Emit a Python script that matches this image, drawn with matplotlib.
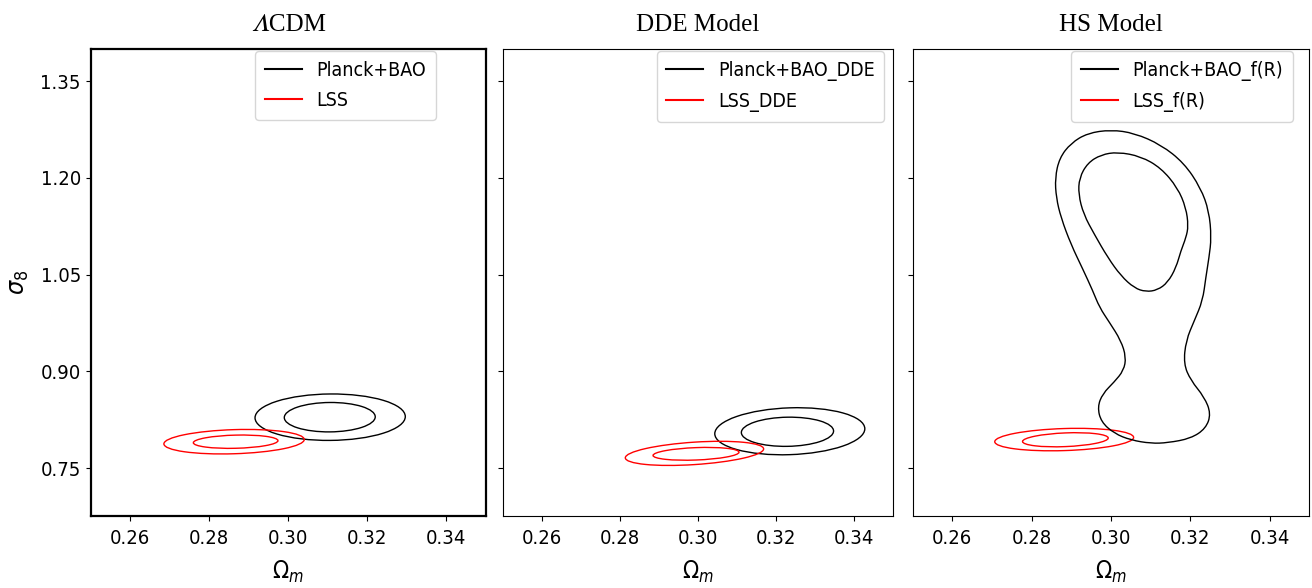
import numpy as np
import matplotlib
matplotlib.use("Agg")
import matplotlib.pyplot as plt
from matplotlib.patches import Ellipse, PathPatch
from matplotlib.path import Path
from matplotlib.lines import Line2D
from matplotlib.transforms import Affine2D
from matplotlib import font_manager

# panel titles and legend labels
titles = ['\U0001D6ECCDM', 'DDE Model', 'HS Model']
planck_labels = ['Planck+BAO', 'Planck+BAO_DDE', 'Planck+BAO_f(R)']
lss_labels = ['LSS', 'LSS_DDE', 'LSS_f(R)']

xticks = [0.26, 0.28, 0.30, 0.32, 0.34]
yticks = [0.75, 0.90, 1.05, 1.20, 1.35]

# elliptical 68%/95% contours
# (centre, half width in Omega_m, half height in sigma_8, tilt dsigma8/dOmega_m)
ell_panel = [0, 0, 0, 0, 1, 1, 1, 1, 2, 2]
ell_color = ['k', 'k', 'r', 'r', 'k', 'k', 'r', 'r', 'r', 'r']
ell_cx = [0.3105, 0.3106, 0.2867, 0.2863, 0.3229, 0.3235, 0.2995, 0.2991, 0.2885, 0.2882]
ell_cy = [0.829, 0.829, 0.791, 0.791, 0.8064, 0.8072, 0.7722, 0.7729, 0.794, 0.7943]
ell_a = [0.0115, 0.0190, 0.0107, 0.01775, 0.0118, 0.0192, 0.0110, 0.0177, 0.0108, 0.0175]
ell_b = [0.0228, 0.0360, 0.0102, 0.0187, 0.0226, 0.0363, 0.0096, 0.0174, 0.0106, 0.0171]
ell_tilt = [0.05, 0.05, 0.15, 0.19, 0.10, 0.20, 0.23, 0.39, 0.25, 0.19]

# HS model Planck+BAO contours (non-gaussian), traced outline
hs_outer_x = [0.3000, 0.3059, 0.3126, 0.3184, 0.3226, 0.3247, 0.3253, 0.3247, 0.3239, 0.3231,
              0.3210, 0.3189, 0.3183, 0.3201, 0.3235, 0.3252, 0.3239, 0.3201, 0.3143, 0.3101,
              0.3050, 0.3008, 0.2975, 0.2966, 0.2979, 0.3008, 0.3032, 0.3038, 0.3025, 0.2996,
              0.2971, 0.2954, 0.2929, 0.2899, 0.2874, 0.2862, 0.2859, 0.2870, 0.2899, 0.2941]
hs_outer_y = [1.2747, 1.2695, 1.2515, 1.2232, 1.1846, 1.1486, 1.1074, 1.0765, 1.0457, 1.0096,
              0.9787, 0.9479, 0.9118, 0.8861, 0.8604, 0.8346, 0.8115, 0.7960, 0.7893, 0.7883,
              0.7935, 0.8038, 0.8218, 0.8449, 0.8655, 0.8835, 0.9015, 0.9221, 0.9479, 0.9761,
              0.9993, 1.0251, 1.0585, 1.0971, 1.1383, 1.1692, 1.2000, 1.2309, 1.2540, 1.2695]
hs_inner_x = [0.3017, 0.3075, 0.3126, 0.3168, 0.3189, 0.3195, 0.3189, 0.3176, 0.3164, 0.3143,
              0.3117, 0.3088, 0.3059, 0.3025, 0.2992, 0.2958, 0.2931, 0.2918, 0.2920, 0.2941,
              0.2975]
hs_inner_y = [1.2402, 1.2335, 1.2155, 1.1846, 1.1537, 1.1254, 1.1074, 1.0868, 1.0610, 1.0379,
              1.0261, 1.0235, 1.0292, 1.0482, 1.0765, 1.1126, 1.1435, 1.1744, 1.2000, 1.2232,
              1.2361]

condensed = any(f.name == 'DejaVu Sans' and f.stretch == 'condensed'
                for f in font_manager.fontManager.ttflist)
plt.rcParams['font.family'] = ['DejaVu Sans']
if condensed:
    plt.rcParams['font.stretch'] = 'condensed'
    tick_fs, leg_fs = 14.5, 14
else:
    tick_fs, leg_fs = 13.5, 12.5


def closed_curve(xs, ys):
    # quadratic b-spline through the traced control points
    p = np.column_stack([xs, ys])
    nxt = np.roll(p, -1, axis=0)
    mid = (p + nxt) / 2
    verts = [mid[-1]]
    codes = [Path.MOVETO]
    for i in range(len(p)):
        verts += [p[i], mid[i]]
        codes += [Path.CURVE3, Path.CURVE3]
    return Path(verts, codes)


fig = plt.figure(figsize=(13.12, 5.88), dpi=100)
lefts = [0.0690, 0.3831, 0.6956]
widths = [0.3014, 0.2978, 0.3024]
legend_right = [0.873, 0.977, 0.958]
axes = []
for i in range(3):
    ax = fig.add_axes([lefts[i], 0.1216, widths[i], 0.7951])
    axes.append(ax)
    ax.set_xlim(0.25, 0.35)
    ax.set_ylim(0.675, 1.40)
    ax.set_xticks(xticks)
    ax.set_xticklabels(['%.2f' % v for v in xticks])
    ax.set_yticks(yticks)
    if i == 0:
        ax.set_yticklabels(['%.2f' % v for v in yticks])
        ax.set_ylabel(r'$\sigma_8$', fontsize=18, labelpad=7)
        for s in ax.spines.values():
            s.set_linewidth(1.6)
    else:
        ax.set_yticklabels([])
    ax.tick_params(labelsize=tick_fs)
    ax.tick_params(axis='x', pad=5.5)
    ax.set_xlabel(r'$\Omega_m$', fontsize=17, labelpad=8)
    ax.set_title(titles[i], fontsize=18, family=['Liberation Serif', 'STIXGeneral'],
                 pad=13)

for j in range(len(ell_cx)):
    ax = axes[ell_panel[j]]
    a, b, k = ell_a[j], ell_b[j], ell_tilt[j]
    tr = Affine2D(np.array([[a, 0, ell_cx[j]], [k * a, b, ell_cy[j]], [0, 0, 1]]))
    e = Ellipse((0, 0), 2, 2, fill=False, edgecolor=ell_color[j], lw=1.0,
                transform=tr + ax.transData)
    ax.add_patch(e)

for xs, ys in [(hs_outer_x, hs_outer_y), (hs_inner_x, hs_inner_y)]:
    axes[2].add_patch(PathPatch(closed_curve(xs, ys), fill=False, edgecolor='k', lw=1.0))

for i, ax in enumerate(axes):
    handles = [Line2D([], [], color='k', lw=1.5), Line2D([], [], color='r', lw=1.5)]
    ax.legend(handles, [planck_labels[i], lss_labels[i]], loc='upper right',
              bbox_to_anchor=(legend_right[i], 0.996), borderaxespad=0,
              fontsize=leg_fs, handlelength=1.9, handletextpad=0.75,
              labelspacing=0.6, borderpad=0.5)

fig.savefig('out.png', dpi=100)
